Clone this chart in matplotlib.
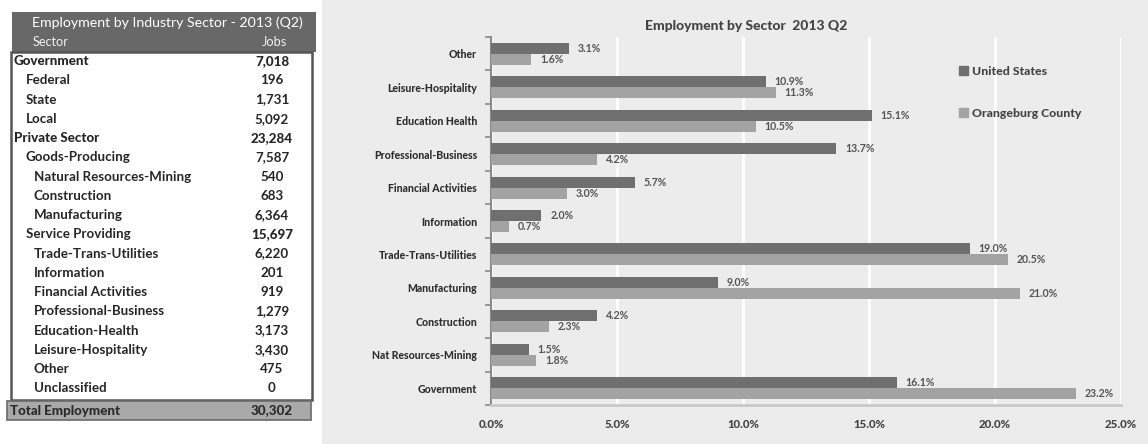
import matplotlib
matplotlib.use("Agg")
import matplotlib.pyplot as plt
from matplotlib.patches import Rectangle
from matplotlib.ticker import FixedLocator, FuncFormatter

W, H = 1148, 444
plt.rcParams['font.family'] = ['Lato', 'DejaVu Sans']

# ---- table data ----
table_title = "Employment by Industry Sector - 2013 (Q2)"
table_rows = ["Government", "Federal", "State", "Local", "Private Sector",
              "Goods-Producing", "Natural Resources-Mining", "Construction",
              "Manufacturing", "Service Providing", "Trade-Trans-Utilities",
              "Information", "Financial Activities", "Professional-Business",
              "Education-Health", "Leisure-Hospitality", "Other", "Unclassified"]
table_jobs = ["7,018", "196", "1,731", "5,092", "23,284", "7,587", "540", "683",
              "6,364", "15,697", "6,220", "201", "919", "1,279", "3,173",
              "3,430", "475", "0"]
table_levels = [0, 1, 1, 1, 0, 1, 2, 2, 2, 1, 2, 2, 2, 2, 2, 2, 2, 2]
total_label = "Total Employment"
total_jobs = "30,302"

# ---- chart data (bottom to top) ----
chart_title = "Employment by Sector  2013 Q2"
categories = ["Government", "Nat Resources-Mining", "Construction", "Manufacturing",
              "Trade-Trans-Utilities", "Information", "Financial Activities",
              "Professional-Business", "Education Health", "Leisure-Hospitality",
              "Other"]
us_share = [16.1, 1.5, 4.2, 9.0, 19.0, 2.0, 5.7, 13.7, 15.1, 10.9, 3.1]
county_share = [23.2, 1.8, 2.3, 21.0, 20.5, 0.7, 3.0, 4.2, 10.5, 11.3, 1.6]
series_names = ["United States", "Orangeburg County"]
x_ticks = [0, 5, 10, 15, 20, 25]

US_COLOR = "#6f6f6f"
CO_COLOR = "#a3a3a3"
TEXT_DARK = "#262626"

fig = plt.figure(figsize=(W / 100, H / 100), dpi=100, facecolor="white")

# Overlay axes in pixel coordinates for the table and backgrounds
bg = fig.add_axes([0, 0, 1, 1])
bg.set_xlim(0, W)
bg.set_ylim(H, 0)
bg.axis("off")

# chart panel background
bg.add_patch(Rectangle((322, 0), W - 322, H, facecolor="#ececec", edgecolor="none"))

# table header
bg.add_patch(Rectangle((12, 12), 304, 40, facecolor="#686868", edgecolor="none"))
bg.text(167, 23, table_title, color="white", fontsize=10.2, ha="center", va="center")
bg.text(51, 42, "Sector", color="#f0f0f0", fontsize=9.2, ha="center", va="center")
bg.text(274, 42, "Jobs", color="#f0f0f0", fontsize=9.2, ha="center", va="center")

# table body frame
bg.add_patch(Rectangle((11, 52), 301, 348, facecolor="white", edgecolor="#555555", lw=1.8))

indent_x = [14, 26, 34]
row0, row_step = 61, 19.25
for i, (name, jobs, lvl) in enumerate(zip(table_rows, table_jobs, table_levels)):
    y = row0 + i * row_step
    heavy = lvl == 0 or name == "Service Providing"
    bg.text(indent_x[lvl], y, name, color=TEXT_DARK, fontsize=9.6,
            fontweight="black" if lvl == 0 else "bold", ha="left", va="center")
    bg.text(272, y, jobs, color=TEXT_DARK, fontsize=9.6,
            fontweight="black" if heavy else "bold", ha="center", va="center")

# total row
bg.add_patch(Rectangle((7, 401), 304, 19, facecolor="#a9a9a9", edgecolor="#6a6a6a", lw=1.2))
bg.text(10, 410.5, total_label, color="#2a2a2a", fontsize=9.6, fontweight="black",
        ha="left", va="center")
bg.text(272, 410.5, total_jobs, color="#2a2a2a", fontsize=9.6, fontweight="black",
        ha="center", va="center")

# ---- bar chart ----
left, right = 491, 1121
top, bottom = 37, 405
ax = fig.add_axes([left / W, 1 - bottom / H, (right - left) / W, (bottom - top) / H])
ax.set_facecolor("none")

pos = list(range(len(categories)))
bar_h = 0.33
ax.barh([p + bar_h / 2 for p in pos], us_share, height=bar_h, color=US_COLOR, zorder=3)
ax.barh([p - bar_h / 2 for p in pos], county_share, height=bar_h, color=CO_COLOR, zorder=3)

for p, v in zip(pos, us_share):
    ax.text(v + 0.35, p + bar_h / 2, f"{v:.1f}%", fontsize=7.6, fontweight="bold",
            color="#555555", va="center", ha="left", zorder=4)
for p, v in zip(pos, county_share):
    ax.text(v + 0.35, p - bar_h / 2, f"{v:.1f}%", fontsize=7.6, fontweight="bold",
            color="#555555", va="center", ha="left", zorder=4)

ax.set_xlim(0, 25)
ax.set_ylim(-0.5, len(categories) - 0.5)
ax.set_xticks(x_ticks)
ax.xaxis.set_major_formatter(FuncFormatter(lambda v, _: f"{v:.1f}%"))
ax.set_yticks(pos)
ax.set_yticklabels(categories)
ax.yaxis.set_minor_locator(FixedLocator([p + 0.5 for p in range(-1, len(categories))]))

ax.grid(axis="x", color="white", lw=2.0, zorder=1)
ax.set_axisbelow(True)
for s in ["top", "right"]:
    ax.spines[s].set_visible(False)
ax.spines["left"].set_color("#8a8a8a")
ax.spines["left"].set_linewidth(1.5)
ax.spines["bottom"].set_color("#c9c9c9")
ax.spines["bottom"].set_linewidth(2)

ax.tick_params(axis="x", length=0, pad=10, labelsize=8.3, labelcolor="#444444")
ax.tick_params(axis="y", which="major", length=0, pad=10, labelsize=7.6, labelcolor="#2e2e2e")
ax.tick_params(axis="y", which="minor", length=4, color="#8a8a8a", width=1.2)
for lab in ax.get_xticklabels() + ax.get_yticklabels():
    lab.set_fontweight("black")

ax.text(0.5 * (645 + 847), 26, chart_title, transform=bg.transData, fontsize=10,
        fontweight="black", color="#444444", ha="center", va="center")

handles = [Rectangle((0, 0), 1, 1, color=US_COLOR), Rectangle((0, 0), 1, 1, color=CO_COLOR)]
leg = fig.legend(handles, series_names, loc="upper left",
                 bbox_to_anchor=(948 / W, 1 - 55 / H), frameon=False,
                 prop={"size": 8.8, "weight": "black"}, handlelength=0.75,
                 handleheight=0.75, handletextpad=0.3, labelspacing=2.55)
for t in leg.get_texts():
    t.set_color("#444444")

fig.savefig("out.png", dpi=100, facecolor="white")
